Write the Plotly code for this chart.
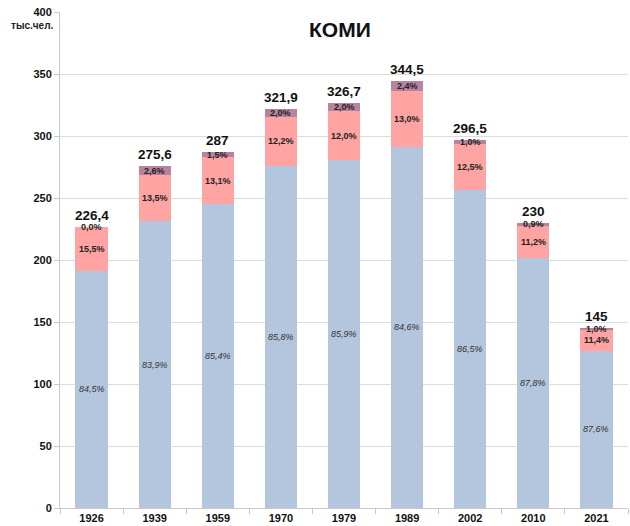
import plotly.graph_objects as go

years = ["1926", "1939", "1959", "1970", "1979", "1989", "2002", "2010", "2021"]
totals = [226.4, 275.6, 287, 321.9, 326.7, 344.5, 296.5, 230, 145]
pct_blue = [84.5, 83.9, 85.4, 85.8, 85.9, 84.6, 86.5, 87.8, 87.6]
pct_pink = [15.5, 13.5, 13.1, 12.2, 12.0, 13.0, 12.5, 11.2, 11.4]
pct_purple = [0.0, 2.6, 1.5, 2.0, 2.0, 2.4, 1.0, 0.9, 1.0]

title = "КОМИ"
unit = "тыс.чел."

C_BLUE = "#b3c6dd"
C_PINK = "#ffa3a3"
C_PURPLE = "#b9829f"

blue_v = [t * p / 100 for t, p in zip(totals, pct_blue)]
pink_v = [t * p / 100 for t, p in zip(totals, pct_pink)]
purple_v = [t - b - k for t, b, k in zip(totals, blue_v, pink_v)]

def fmt_pct(p):
    return f"{p:.1f}%".replace(".", ",")

def fmt_num(v):
    return f"{v:g}".replace(".", ",")

fig = go.Figure()
fig.add_bar(x=years, y=blue_v, marker_color=C_BLUE, marker_line_width=0, hoverinfo="skip")
fig.add_bar(x=years, y=pink_v, marker_color=C_PINK, marker_line_width=0, hoverinfo="skip")
fig.add_bar(x=years, y=purple_v, marker_color=C_PURPLE, marker_line_width=0, hoverinfo="skip")

ann = []
FONT = "Liberation Sans, Arial, sans-serif"
for i, yr in enumerate(years):
    b, k, p, t = blue_v[i], pink_v[i], purple_v[i], totals[i]
    ann.append(dict(x=i, y=b / 2, text=f"<i>{fmt_pct(pct_blue[i])}</i>", showarrow=False,
                    font=dict(family=FONT, size=9, color="#333333"), yanchor="middle"))
    ann.append(dict(x=i, y=b + k / 2, text=f"<b>{fmt_pct(pct_pink[i])}</b>", showarrow=False,
                    font=dict(family=FONT, size=9, color="#222222"), yanchor="middle"))
    ann.append(dict(x=i, y=b + k + p / 2, text=f"<b>{fmt_pct(pct_purple[i])}</b>", showarrow=False,
                    font=dict(family=FONT, size=9, color="#222222"), yanchor="middle"))
    ann.append(dict(x=i, y=t, text=f"<b>{fmt_num(t)}</b>", showarrow=False,
                    font=dict(family=FONT, size=13.5, color="#111111"), yanchor="bottom", yshift=2))

ann.append(dict(xref="paper", yref="paper", x=0.493, y=0.964, text=f"<b>{title}</b>",
                showarrow=False, font=dict(family=FONT, size=21, color="#111111"),
                xanchor="center", yanchor="middle"))
ann.append(dict(xref="paper", yref="paper", x=-0.05, y=0.972, text=f"<b>{unit}</b>",
                showarrow=False, font=dict(family=FONT, size=10, color="#222222"),
                xanchor="center", yanchor="middle"))

fig.update_layout(
    barmode="stack",
    bargap=0.49,
    width=630, height=526,
    margin=dict(l=60, r=2, t=12, b=18, autoexpand=False),
    plot_bgcolor="white",
    paper_bgcolor="white",
    showlegend=False,
    annotations=ann,
    font=dict(family=FONT, color="#111111"),
)
fig.update_yaxes(range=[0, 400], dtick=50, showgrid=True, gridcolor="#dcdcdc", gridwidth=1,
                 showline=True, linecolor="#c8c8c8", ticks="outside", ticklen=5, tickcolor="#c8c8c8",
                 tickfont=dict(family=FONT, size=11, color="#111111"), tickprefix="<b>", ticksuffix="</b>",
                 zeroline=False, ticklabeloverflow="allow")
fig.update_xaxes(type="category", range=[-0.5, len(years) - 0.5], showline=True, linecolor="#c8c8c8",
                 ticks="outside", ticklen=5, tickcolor="#c8c8c8", tickson="boundaries",
                 tickfont=dict(family=FONT, size=11, color="#111111"),
                 tickprefix="<b>", ticksuffix="</b>", ticklabeloverflow="allow")

fig.write_html("out.html", config={"displayModeBar": False},
               post_script="document.body.style.margin='0px';")
